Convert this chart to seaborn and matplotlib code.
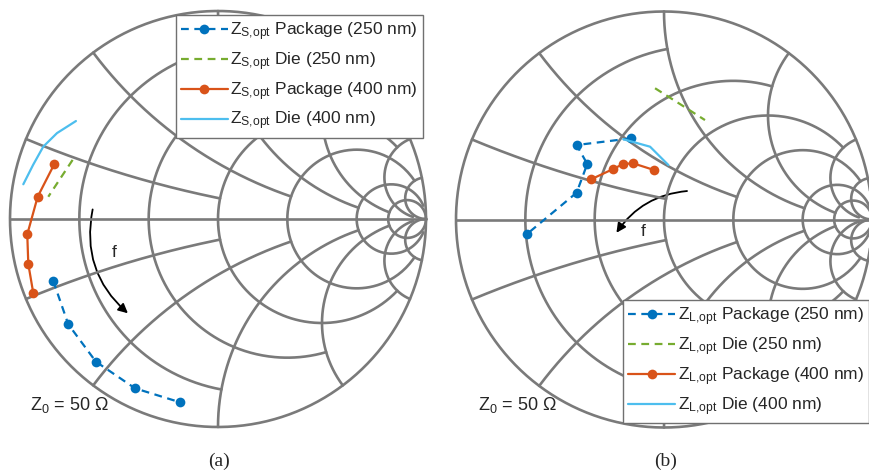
import numpy as np
import matplotlib
matplotlib.use("Agg")
import matplotlib.pyplot as plt
from matplotlib.patches import FancyArrowPatch
import seaborn as sns

# reflection coefficient (Re, Im)
# (a) source side
s_pkg250_re = [-0.792, -0.720, -0.587, -0.399, -0.183]
s_pkg250_im = [-0.298, -0.506, -0.686, -0.814, -0.881]
s_die250_re = [-0.699, -0.750, -0.816]
s_die250_im = [0.284, 0.207, 0.107]
s_pkg400_re = [-0.787, -0.867, -0.917, -0.912, -0.888]
s_pkg400_im = [0.264, 0.107, -0.074, -0.216, -0.357]
s_die400_re = [-0.683, -0.774, -0.840, -0.889, -0.936]
s_die400_im = [0.471, 0.413, 0.348, 0.260, 0.167]

# (b) load side
l_pkg250_re = [-0.159, -0.420, -0.369, -0.420, -0.660]
l_pkg250_im = [0.390, 0.358, 0.267, 0.129, -0.071]
l_die250_re = [-0.043, 0.077, 0.197]
l_die250_im = [0.631, 0.555, 0.478]
l_pkg400_re = [-0.048, -0.148, -0.196, -0.244, -0.351]
l_pkg400_im = [0.238, 0.270, 0.267, 0.243, 0.193]
l_die400_re = [-0.196, -0.067, 0.021]
l_die400_im = [0.386, 0.350, 0.262]

series_names = ["Package (250 nm)", "Die (250 nm)", "Package (400 nm)", "Die (400 nm)"]
colors = ["#0072BD", "#77AC30", "#D95319", "#4DBEEE"]

# smith grid: circle value and how far each arc runs
grid_values = [0.2, 0.5, 1, 2, 5, 10]
grid_limits = [1, 2, 5, 10, 30, np.inf]

GRID_C = "#7a7a7a"
GRID_LW = 1.9

sns.set_style("white")
plt.rcParams["font.family"] = ["Liberation Sans", "DejaVu Sans"]

fig = plt.figure(figsize=(8.7, 4.76), dpi=100)
L = 1.05


def place(cx, cy, R):
    w = 2 * L * R
    return [(cx - L * R) / 870, (476 - cy - L * R) / 476, w / 870, w / 476]


def gamma(z):
    return (z - 1) / (z + 1)


def draw_smith(ax):
    t = np.linspace(0, 2 * np.pi, 500)
    ax.plot(np.cos(t), np.sin(t), color=GRID_C, lw=GRID_LW)
    ax.plot([-1, 1], [0, 0], color=GRID_C, lw=GRID_LW)
    for v, lim in zip(grid_values, grid_limits):
        tt = np.linspace(-np.arctan(lim), np.arctan(lim), 400)
        g = gamma(v + 1j * np.tan(tt))
        ax.plot(g.real, g.imag, color=GRID_C, lw=GRID_LW)
        tt = np.linspace(0, np.arctan(lim), 400)
        for s in (1, -1):
            g = gamma(np.tan(tt) + 1j * s * v)
            ax.plot(g.real, g.imag, color=GRID_C, lw=GRID_LW)
    ax.set_xlim(-L, L)
    ax.set_ylim(-L, L)
    ax.axis("off")


def add_series(ax, re, im, color, label, dashed, marker):
    sns.lineplot(x=re, y=im, ax=ax, color=color, lw=1.6, sort=False,
                 estimator=None, label=label,
                 marker="o" if marker else None, markersize=7,
                 markeredgecolor=color, markeredgewidth=0)
    line = ax.lines[-1]
    if dashed:
        line.set_dashes((3.5, 2.5))


def finish(ax, legend_kw, arrow, ftxt, ztxt):
    leg = ax.legend(prop={"size": 12.5}, frameon=True, fancybox=False,
                    framealpha=1, edgecolor="#707070", handlelength=2.7,
                    handletextpad=0.15, labelspacing=0.42, borderpad=0.3,
                    borderaxespad=0, numpoints=1,
                    bbox_transform=fig.transFigure, **legend_kw)
    leg.get_frame().set_linewidth(1.0)
    ax.add_patch(FancyArrowPatch(arrow[0], arrow[1], connectionstyle=f"arc3,rad={arrow[2]}",
                                 arrowstyle="-|>", mutation_scale=14, lw=1.3, color="k"))
    ax.text(ftxt[0], ftxt[1], "f", fontsize=12.5, ha="center", va="center")
    ax.text(ztxt[0], ztxt[1], r"$\mathregular{Z_0}$ = 50 Ω", fontsize=13, ha="left", va="center")


ax1 = fig.add_axes(place(218, 219, 208))
draw_smith(ax1)
s_data = [(s_pkg250_re, s_pkg250_im, True, True), (s_die250_re, s_die250_im, True, False),
          (s_pkg400_re, s_pkg400_im, False, True), (s_die400_re, s_die400_im, False, False)]
for (re, im, dsh, mk), c, name in zip(s_data, colors, series_names):
    add_series(ax1, re, im, c, r"$\mathregular{Z_{S{,}opt}}$ " + name, dsh, mk)
finish(ax1, dict(loc="upper right", bbox_to_anchor=(423 / 870, 1 - 15 / 476)),
       ((-0.600, 0.059), (-0.423, -0.462), 0.3), (-0.50, -0.159), (-0.904, -0.894))

ax2 = fig.add_axes(place(664, 219.5, 208))
draw_smith(ax2)
l_data = [(l_pkg250_re, l_pkg250_im, True, True), (l_die250_re, l_die250_im, True, False),
          (l_pkg400_re, l_pkg400_im, False, True), (l_die400_re, l_die400_im, False, False)]
for (re, im, dsh, mk), c, name in zip(l_data, colors, series_names):
    add_series(ax2, re, im, c, r"$\mathregular{Z_{L{,}opt}}$ " + name, dsh, mk)
finish(ax2, dict(loc="lower right", bbox_to_anchor=(869 / 870, 1 - 423 / 476)),
       ((0.124, 0.138), (-0.236, -0.075), 0.25), (-0.101, -0.059), (-0.894, -0.892))

fig.text(219 / 870, 1 - 461 / 476, "(a)", family="Liberation Serif", fontsize=14,
         ha="center", va="center")
fig.text(666 / 870, 1 - 461 / 476, "(b)", family="Liberation Serif", fontsize=14,
         ha="center", va="center")

fig.savefig("out.png", dpi=100)
